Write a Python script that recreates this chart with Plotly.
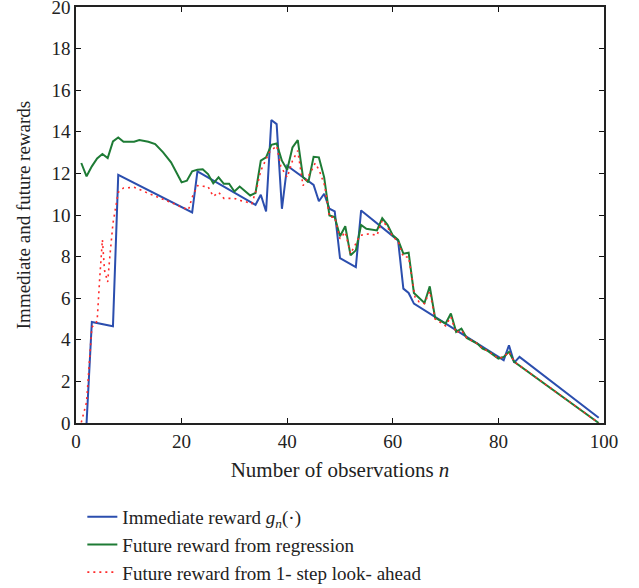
import plotly.graph_objects as go

# Immediate reward g_n(.) (breakpoints)
n_imm = [2, 3, 7, 8, 22, 23, 34, 35, 36, 37, 38, 39, 40, 45, 46, 47, 48, 49, 50, 53, 54, 61, 62, 63, 64, 80, 81, 82, 83, 84, 99]
v_imm = [0.0, 4.86, 4.65, 11.93, 10.12, 12.1, 10.49, 10.97, 10.17, 14.57, 14.37, 10.3, 12.37, 11.45, 10.66, 11.02, 10.3, 10.17, 7.93, 7.5, 10.22, 8.78, 6.46, 6.25, 5.74, 3.18, 3.02, 3.74, 2.9, 3.18, 0.25]

# Future reward from regression
n_reg = [1, 2, 3, 4, 5, 6, 7, 8, 9, 11, 12, 13.7, 15, 16.5, 18, 20, 21, 22, 23, 24, 25, 26, 27, 28, 29, 30, 31, 32, 33, 34, 35, 36, 37, 38, 39, 40, 41, 42, 43, 44, 45, 46, 47, 48, 49, 50, 51, 52, 53, 54, 55, 57, 58, 59, 60, 61, 62, 63, 64, 66, 67, 68, 70, 71, 72, 73, 74, 76, 77, 78, 80, 81, 82, 83, 99]
v_reg = [12.5, 11.86, 12.34, 12.72, 12.93, 12.74, 13.54, 13.73, 13.52, 13.52, 13.6, 13.52, 13.41, 13.01, 12.53, 11.57, 11.65, 12.1, 12.18, 12.2, 11.97, 11.52, 11.81, 11.5, 11.5, 11.13, 11.37, 11.17, 10.94, 11.06, 12.61, 12.77, 13.37, 13.44, 12.61, 12.18, 13.25, 13.6, 11.81, 11.57, 12.8, 12.77, 11.81, 9.98, 9.9, 8.98, 9.46, 8.06, 8.3, 9.52, 9.34, 9.26, 9.85, 9.53, 9.02, 8.8, 8.14, 8.19, 6.25, 5.77, 6.57, 5.07, 4.78, 5.26, 4.38, 4.54, 4.09, 3.82, 3.58, 3.47, 3.1, 3.18, 3.42, 2.94, 0.0]

# Future reward from 1-step look-ahead
n_look = [1, 2, 3, 4, 4.5, 5, 5.4, 6, 6.4, 7, 8, 9, 11, 21.3, 22, 23, 24, 25, 26, 27, 28, 30, 31, 32, 33.3, 34.2, 35, 36, 36.6, 38, 38.8, 40, 41, 42, 43, 44.6, 45.3, 46.1, 47.1, 48, 49, 50, 51, 52, 53, 53.8, 55.6, 57, 58, 59, 60, 61, 62, 63, 64.2, 65, 66, 67, 68, 70, 71, 72, 73, 74, 76, 77, 78, 80, 81, 82, 83, 99]
v_look = [0.03, 1.0, 4.6, 4.9, 7.0, 8.81, 7.34, 6.78, 7.98, 9.6, 11.09, 11.3, 11.33, 10.25, 10.85, 11.41, 11.38, 11.37, 10.89, 11.09, 10.8, 10.8, 10.7, 10.65, 10.54, 11.26, 12.13, 12.7, 13.01, 13.33, 12.33, 11.81, 12.61, 13.09, 11.41, 12.13, 12.49, 12.13, 11.41, 9.9, 9.9, 8.86, 9.18, 8.14, 8.62, 9.02, 9.1, 9.02, 9.74, 9.42, 8.94, 8.75, 7.98, 7.98, 6.06, 5.82, 5.74, 6.33, 5.0, 4.67, 5.1, 4.33, 4.46, 4.09, 3.82, 3.58, 3.47, 3.1, 3.18, 3.42, 2.94, 0.0]

x_ticks = [0, 20, 40, 60, 80, 100]
y_ticks = [0, 2, 4, 6, 8, 10, 12, 14, 16, 18, 20]

FONT = "Liberation Serif"

fig = go.Figure()
fig.add_trace(go.Scatter(x=n_imm, y=v_imm, mode="lines",
                         name="Immediate reward <i>g<sub>n</sub></i>(·)",
                         line=dict(color="#2B4EAE", width=2), legendgroup="a"))
fig.add_trace(go.Scatter(x=n_reg, y=v_reg, mode="lines",
                         name="Future reward from regression",
                         line=dict(color="#1E7B35", width=2), legendgroup="b"))
fig.add_trace(go.Scatter(x=n_look, y=v_look, mode="lines",
                         name="Future reward from 1- step look- ahead",
                         line=dict(color="#FF2A2A", width=1.6, dash="2px,4px"), legendgroup="c"))

axis_common = dict(showgrid=False, zeroline=False, showline=True, linecolor="#222",
                   linewidth=1.5, mirror="ticks", ticks="inside", ticklen=5,
                   tickcolor="#111", ticklabeloverflow="allow",
                   tickfont=dict(family=FONT, size=19, color="#222"))

fig.update_xaxes(range=[0, 100], tickvals=x_ticks,
                 title=dict(text="Number of observations <i>n</i>",
                            font=dict(family=FONT, size=21, color="#222"), standoff=12),
                 **axis_common)
fig.update_yaxes(range=[0, 20], tickvals=y_ticks,
                 title=dict(text="Immediate and future rewards",
                            font=dict(family=FONT, size=19, color="#222"), standoff=16),
                 **axis_common)

fig.update_layout(
    width=639, height=588,
    margin=dict(l=76, r=35, t=7, b=165, autoexpand=False),
    plot_bgcolor="white", paper_bgcolor="white",
    showlegend=True,
    legend=dict(x=0.012, y=-0.18, xanchor="left", yanchor="top",
                font=dict(family=FONT, size=19, color="#222"),
                tracegroupgap=0, bgcolor="rgba(0,0,0,0)"),
)

fig.write_html("out.html")
